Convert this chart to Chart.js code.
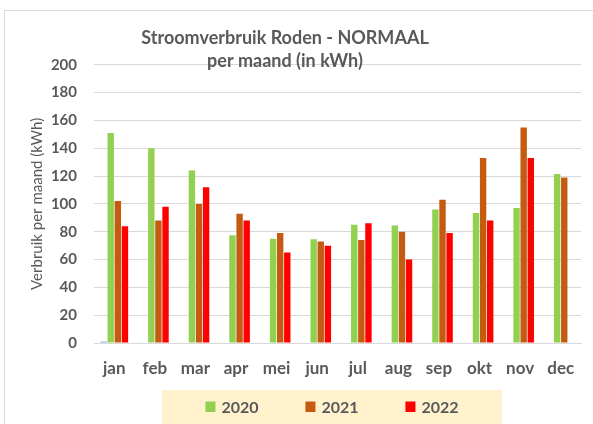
<!DOCTYPE html>
<html>
<head>
<meta charset="utf-8">
<title>Stroomverbruik Roden - NORMAAL</title>
<script src="https://cdn.jsdelivr.net/npm/chart.js@4.4.1/dist/chart.umd.min.js"></script>
<style>
  html, body { margin: 0; padding: 0; background: #fff; overflow: hidden; }
  body { width: 593px; height: 424px; position: relative; }
  /* excel chart frame, cut off at the right and bottom */
  #frame { position: absolute; left: 4px; top: 10px; width: 640px; height: 460px; border: 1px solid #d9d9d9; }
  #statsChart { position: absolute; left: -11px; top: 0; }
</style>
</head>
<body>
<div id="frame"></div>
<canvas id="statsChart" width="604" height="424"></canvas>
<script>
const months = ['jan', 'feb', 'mar', 'apr', 'mei', 'jun', 'jul', 'aug', 'sep', 'okt', 'nov', 'dec'];
const yearLabels = ['2020', '2021', '2022'];

// kWh per maand
const verbruik2020 = [151, 140, 124, 77.5, 75, 74.5, 85, 84.5, 96, 93.5, 97, 121.5];
const verbruik2021 = [102, 88, 100, 93, 79, 73, 74, 80, 103, 133, 155, 119];
const verbruik2022 = [84, 98, 112, 88, 65, 70, 86, 60, 79, 88, 133, null];
// small leftover series without legend entry (only visible in jan)
const verbruikOverig = [1, null, null, null, null, null, null, null, null, null, null, null];

const yTicks = { min: 0, max: 200, step: 20 };

const textColor = '#595959';
const gridColor = '#d9d9d9';

Chart.defaults.font.family = 'Lato';
Chart.defaults.color = textColor;

// legend on a light yellow band, like the excel one
const legendBand = {
    id: 'legendBand',
    afterDraw(chart) {
        const ctx = chart.ctx;
        const cx = 343;
        const bandW = 340;
        const pitch = 100, box = 10, gap = 6;
        const items = chart.data.datasets.filter(ds => ds.label);

        ctx.save();
        ctx.fillStyle = '#FFF2CC';
        ctx.fillRect(cx - bandW / 2, 390, bandW, 40);

        ctx.font = 'bold 16px Lato';
        ctx.textBaseline = 'middle';
        const itemW = box + gap + ctx.measureText(items[0].label).width;
        let x = cx - (pitch * (items.length - 1) + itemW) / 2;
        items.forEach(ds => {
            ctx.fillStyle = ds.backgroundColor;
            ctx.fillRect(x, 401.5, box, 10.5);
            ctx.fillStyle = textColor;
            ctx.fillText(ds.label, x + box + gap, 407.5);
            x += pitch;
        });
        ctx.restore();
    }
};

const ctx = document.getElementById('statsChart').getContext('2d');
new Chart(ctx, {
    type: 'bar',
    data: {
        labels: months,
        datasets: [
            { label: '', data: verbruikOverig, backgroundColor: '#8EA9DB' },
            { label: yearLabels[0], data: verbruik2020, backgroundColor: '#92D050' },
            { label: yearLabels[1], data: verbruik2021, backgroundColor: '#C55A11' },
            { label: yearLabels[2], data: verbruik2022, backgroundColor: '#FF0000' }
        ]
    },
    options: {
        responsive: false,
        animation: false,
        categoryPercentage: 0.7,
        barPercentage: 0.9,
        layout: { padding: { left: 0, right: 12, top: 0, bottom: 46 } },
        plugins: {
            legend: { display: false },
            tooltip: { enabled: false },
            title: {
                display: true,
                text: ['Stroomverbruik Roden - NORMAAL', 'per maand (in kWh)'],
                color: textColor,
                font: { size: 18, weight: 'bold', lineHeight: 1.3 },
                padding: { top: 26.5, bottom: -8.5 }
            }
        },
        scales: {
            x: {
                grid: { display: false, drawTicks: false },
                border: { display: true, color: gridColor, width: 1 },
                ticks: { padding: 15, color: textColor, font: { size: 17, weight: 'bold' } },
                afterFit(scale) { scale.height = 35; }
            },
            y: {
                min: yTicks.min,
                max: yTicks.max,
                grid: { color: gridColor, lineWidth: 1, drawTicks: false },
                border: { display: false },
                ticks: { stepSize: yTicks.step, padding: 17, color: textColor, font: { size: 15, weight: 'bold' } },
                title: {
                    display: true,
                    text: 'Verbruik per maand (kWh)',
                    color: textColor,
                    font: { size: 15, weight: 'normal' },
                    padding: { top: 39, bottom: 0 }
                },
                afterFit(scale) { scale.width = 105; }
            }
        }
    },
    plugins: [legendBand]
});
</script>
</body>
</html>
